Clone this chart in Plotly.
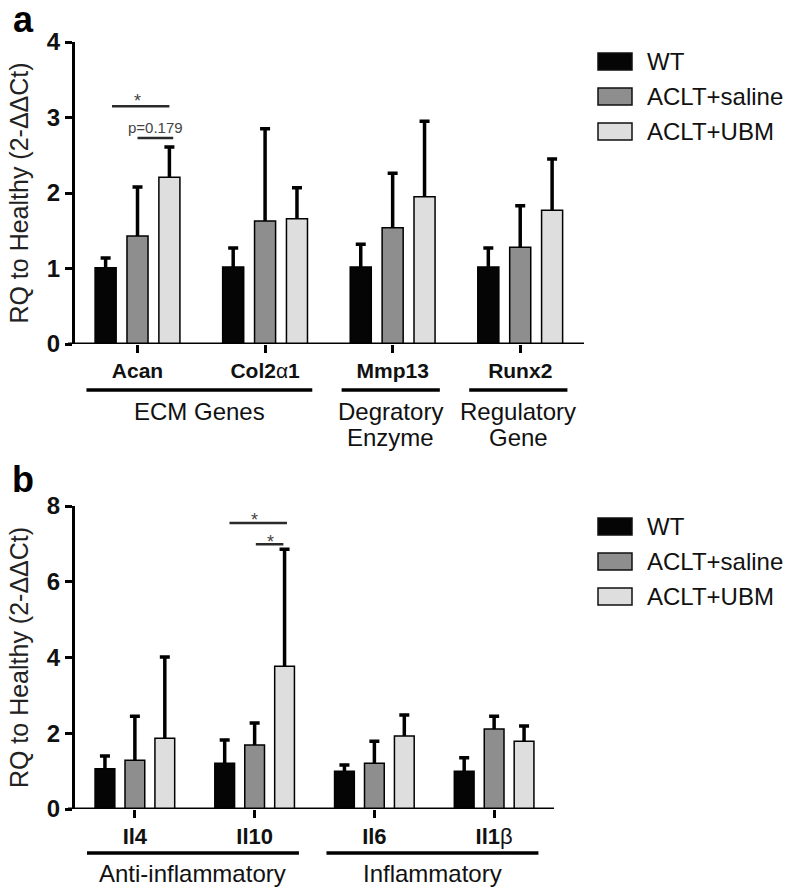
import plotly.graph_objects as go

W, H = 798, 895
FONT = "Liberation Sans, Arial, Helvetica, sans-serif"

# ---------------- data ----------------
series = ["WT", "ACLT+saline", "ACLT+UBM"]
colors = ["#050505", "#8e8e8e", "#dedede"]

# panel a
genes_a = ["Acan", "Col2α1", "Mmp13", "Runx2"]
ticktext_a = ["Acan", "Col2<span style='font-weight:normal'>α</span>1", "Mmp13", "Runx2"]
wt_a = [1.01, 1.02, 1.02, 1.02]
wt_a_top = [1.14, 1.27, 1.32, 1.27]
saline_a = [1.43, 1.63, 1.54, 1.28]
saline_a_top = [2.08, 2.85, 2.26, 1.83]
ubm_a = [2.21, 1.66, 1.95, 1.77]
ubm_a_top = [2.61, 2.07, 2.95, 2.45]
group_labels_a = ["ECM Genes", "Degratory<br>Enzyme", "Regulatory<br>Gene"]
group_first_a = [0, 2, 3]
group_last_a = [1, 2, 3]
yticks_a = [0, 1, 2, 3, 4]

# panel b
genes_b = ["Il4", "Il10", "Il6", "Il1β"]
ticktext_b = ["Il4", "Il10", "Il6", "Il1<span style='font-weight:normal'>β</span>"]
wt_b = [1.06, 1.21, 1.00, 1.00]
wt_b_top = [1.40, 1.82, 1.16, 1.35]
saline_b = [1.29, 1.69, 1.21, 2.11]
saline_b_top = [2.45, 2.27, 1.79, 2.45]
ubm_b = [1.87, 3.77, 1.93, 1.79]
ubm_b_top = [4.01, 6.86, 2.48, 2.19]
group_labels_b = ["Anti-inflammatory", "Inflammatory"]
group_first_b = [0, 2]
group_last_b = [1, 3]
yticks_b = [0, 2, 4, 6, 8]

ytitle = "RQ to Healthy (2-ΔΔCt)"


def py(p):
    """pixel row -> paper fraction"""
    return 1 - p / H


def px(p):
    return p / W


fig = go.Figure()

panels = [
    ("x", "y", genes_a, [(wt_a, wt_a_top), (saline_a, saline_a_top), (ubm_a, ubm_a_top)]),
    ("x2", "y2", genes_b, [(wt_b, wt_b_top), (saline_b, saline_b_top), (ubm_b, ubm_b_top)]),
]
clear = dict(color="rgba(0,0,0,0)", line=dict(width=0))
for xr, yr, genes, data in panels:
    for i, (name, col, (vals, tops)) in enumerate(zip(series, colors, data)):
        # the bars
        fig.add_trace(go.Bar(
            x=genes, y=vals, name=name, xaxis=xr, yaxis=yr, offsetgroup=str(i),
            marker=dict(color=col, line=dict(color="#000", width=1.5)),
            showlegend=False,
        ))
        # upward error stem (no cross-bars)
        fig.add_trace(go.Bar(
            x=genes, y=vals, name=name, xaxis=xr, yaxis=yr, offsetgroup=str(i),
            marker=clear,
            error_y=dict(type="data", symmetric=False,
                         array=[t - v for t, v in zip(tops, vals)],
                         arrayminus=[0] * len(vals),
                         color="#000", thickness=3.5, width=0),
            showlegend=False, hoverinfo="skip",
        ))
        # cap at the top of the error bar
        fig.add_trace(go.Bar(
            x=genes, y=tops, name=name, xaxis=xr, yaxis=yr, offsetgroup=str(i),
            marker=clear,
            error_y=dict(type="data", array=[0] * len(tops),
                         color="#000", thickness=3.5, width=5),
            showlegend=False, hoverinfo="skip",
        ))

axis_common = dict(showgrid=False, zeroline=False, automargin=False)
fig.update_layout(
    width=W, height=H,
    margin=dict(l=0, r=0, t=0, b=0, pad=0, autoexpand=False),
    showlegend=False,
    paper_bgcolor="white", plot_bgcolor="white",
    font=dict(family=FONT, color="#111"),
    barmode="group", bargap=0.25, bargroupgap=0.34,
    xaxis=dict(domain=[px(75), px(584)], range=[-0.49, 3.5], anchor="y",
               type="category", tickvals=genes_a, ticktext=ticktext_a,
               tickfont=dict(size=21, weight="bold", color="#111"),
               ticks="outside", ticklen=8, tickwidth=2.5, tickcolor="#000",
               showline=False, **axis_common),
    yaxis=dict(domain=[py(344), py(42)], range=[0, 4], anchor="x",
               tickvals=yticks_a,
               tickfont=dict(size=24, weight="bold", color="#111"),
               ticks="outside", ticklen=7, tickwidth=3, tickcolor="#000",
               showline=True, linewidth=3, linecolor="#000",
               title=dict(text=ytitle, font=dict(size=25, color="#222"), standoff=12),
               **axis_common),
    xaxis2=dict(domain=[px(75), px(554)], range=[-0.5, 3.5], anchor="y2",
                type="category", tickvals=genes_b, ticktext=ticktext_b,
                tickfont=dict(size=22, weight="bold", color="#111"),
                ticks="outside", ticklen=8, tickwidth=2.5, tickcolor="#000",
                showline=False, **axis_common),
    yaxis2=dict(domain=[py(809), py(506)], range=[0, 8], anchor="x2",
                tickvals=yticks_b,
                tickfont=dict(size=24, weight="bold", color="#111"),
                ticks="outside", ticklen=7, tickwidth=3, tickcolor="#000",
                showline=True, linewidth=3, linecolor="#000",
                title=dict(text=ytitle, font=dict(size=25, color="#222"), standoff=12),
                **axis_common),
)

shapes = []
annotations = []

# x-axis baselines (extend slightly left of the y axis)
shapes.append(dict(type="line", xref="paper", yref="y", x0=px(68), x1=px(584), y0=0, y1=0,
                   line=dict(color="#000", width=3)))
shapes.append(dict(type="line", xref="paper", yref="y2", x0=px(68), x1=px(554), y0=0, y1=0,
                   line=dict(color="#000", width=3)))

# group lines and labels
def add_groups(xr, labels, firsts, lasts, line_px, label_px, line_step=25):
    for lab, f, l in zip(labels, firsts, lasts):
        x0, x1 = f - 0.4, l + 0.37
        shapes.append(dict(type="line", xref=xr, yref="paper", x0=x0, x1=x1,
                           y0=py(line_px), y1=py(line_px),
                           line=dict(color="#000", width=3.5)))
        for k, part in enumerate(lab.split("<br>")):
            annotations.append(dict(xref=xr, yref="paper", x=(x0 + x1) / 2,
                                    y=py(label_px + k * line_step),
                                    text=part, showarrow=False, xanchor="center", yanchor="middle",
                                    font=dict(size=24, color="#111")))

add_groups("x", group_labels_a, group_first_a, group_last_a, 390, 412)
add_groups("x2", group_labels_b, group_first_b, group_last_b, 853, 873)

# significance markers (relative to the compared category)
sig_col = "#2a2a2a"
def sig_line(xr, yr, x0, x1, y):
    shapes.append(dict(type="line", xref=xr, yref=yr, x0=x0, x1=x1, y0=y, y1=y,
                       line=dict(color=sig_col, width=2.5)))

def sig_text(xr, yr, x, y, t, size):
    annotations.append(dict(xref=xr, yref=yr, x=x, y=y, text=t, showarrow=False,
                            xanchor="center", yanchor="middle",
                            font=dict(size=size, color="#444")))

ca = genes_a.index("Acan")
sig_line("x", "y", ca - 0.2, ca + 0.25, 3.15)
sig_text("x", "y", ca + 0.0, 3.22, "*", 18)
sig_line("x", "y", ca + 0.0, ca + 0.28, 2.73)
sig_text("x", "y", ca + 0.14, 2.87, "p=0.179", 15)

cb = genes_b.index("Il10")
sig_line("x2", "y2", cb - 0.21, cb + 0.27, 7.55)
sig_text("x2", "y2", cb + 0.0, 7.64, "*", 18)
sig_line("x2", "y2", cb + 0.01, cb + 0.24, 6.99)
sig_text("x2", "y2", cb + 0.13, 7.06, "*", 18)

# panel letters
annotations.append(dict(xref="paper", yref="paper", x=px(23), y=py(20), text="<b>a</b>",
                        xanchor="center", yanchor="middle",
                        showarrow=False, font=dict(size=36, color="#000")))
annotations.append(dict(xref="paper", yref="paper", x=px(23), y=py(479), text="<b>b</b>",
                        xanchor="center", yanchor="middle",
                        showarrow=False, font=dict(size=36, color="#000")))

# custom legends
def add_legend(top_rows):
    for name, col, top in zip(series, colors, top_rows):
        shapes.append(dict(type="rect", xref="paper", yref="paper",
                           x0=px(598), x1=px(632), y0=py(top + 17), y1=py(top),
                           fillcolor=col, line=dict(color="#111", width=1.5)))
        annotations.append(dict(xref="paper", yref="paper", x=px(645), y=py(top + 8.5),
                                text=name, showarrow=False, xanchor="left", yanchor="middle",
                                font=dict(size=24, color="#111")))

add_legend([53, 88, 123])
add_legend([518, 553, 588])

fig.update_layout(shapes=shapes, annotations=annotations)

fig.write_html("out.html",
               config={"displayModeBar": False},
               post_script="document.body.style.margin='0';document.body.style.padding='0';")
